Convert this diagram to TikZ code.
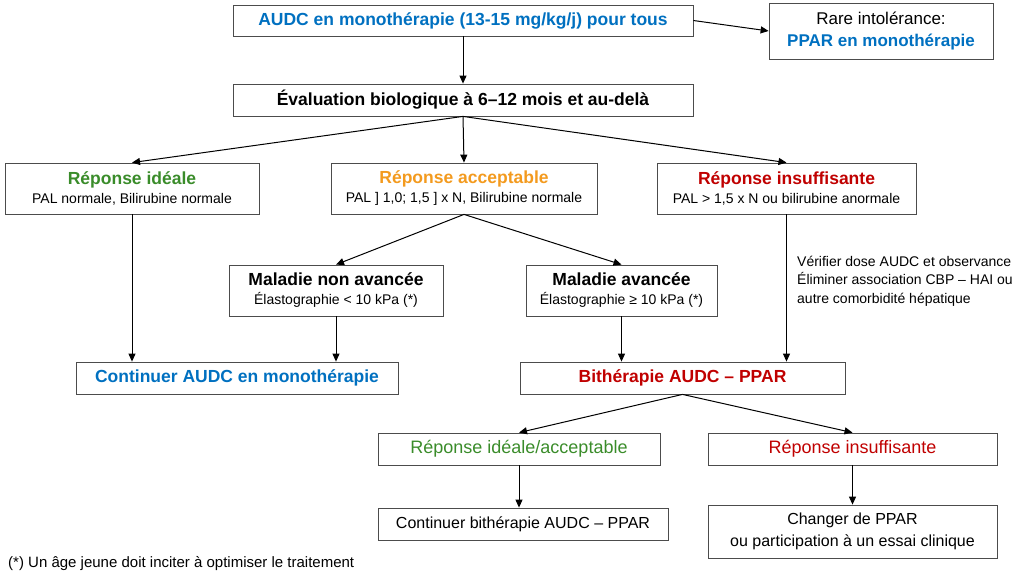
\documentclass[tikz,border=0pt]{standalone}
\usepackage{fontspec}
\setmainfont{Liberation Sans}
\usetikzlibrary{arrows.meta}
\definecolor{cblue}{HTML}{0070C0}
\definecolor{cgreen}{HTML}{3A8C2A}
\definecolor{corange}{HTML}{F39A1E}
\definecolor{cred}{HTML}{C00000}
\newcommand{\myBig}{\fontsize{17.5}{21}\selectfont\bfseries}
\newcommand{\mySm}{\fontsize{14}{17}\selectfont}
\begin{document}
\begin{tikzpicture}[x=1pt,y=-1pt,
  box/.style={draw=black!70,line width=0.8pt,inner sep=0pt,align=center},
  arr/.style={-{Triangle[length=8pt,width=7pt]},line width=1pt}]
\useasboundingbox (0,0) rectangle (1024,576);
\node[box,font=\myBig,text=cblue,minimum width=460,minimum height=31] (top) at (463,20.5) {AUDC en monothérapie (13-15 mg/kg/j) pour tous};
\node[box,font=\fontsize{17}{22}\selectfont,minimum width=224,minimum height=56] (rare) at (881,31) {Rare intolérance:\\{\color{cblue}\bfseries PPAR en monothérapie}};
\node[box,font=\myBig,minimum width=460,minimum height=32] (eval) at (463,100) {Évaluation biologique à 6–12 mois et au-delà};
\node[box,font=\mySm,minimum width=254,minimum height=51] (ideal) at (132,188.5) {{\color{cgreen}\myBig Réponse idéale}\\[2pt]PAL normale, Bilirubine normale};
\node[box,font=\mySm,minimum width=266,minimum height=51] (acc) at (464,188.5) {{\color{corange}\myBig Réponse acceptable}\\[2pt]PAL ] 1,0; 1,5 ] x N, Bilirubine normale};
\node[box,font=\mySm,minimum width=259,minimum height=51] (ins) at (786.5,188.5) {{\color{cred}\myBig Réponse insuffisante}\\[2pt]PAL > 1,5 x N ou bilirubine anormale};
\node[box,font=\mySm,minimum width=214,minimum height=51] (nonav) at (336,290.5) {{\myBig Maladie non avancée}\\[2pt]Élastographie < 10 kPa (*)};
\node[box,font=\mySm,minimum width=191,minimum height=51] (av) at (621.5,290.5) {{\myBig Maladie avancée}\\[2pt]Élastographie ≥ 10 kPa (*)};
\node[box,font=\myBig,text=cblue,minimum width=322,minimum height=32] (cont) at (237,378) {Continuer AUDC en monothérapie};
\node[box,font=\myBig,text=cred,minimum width=325,minimum height=32] (bi) at (682.5,378) {Bithérapie AUDC – PPAR};
\node[box,font=\fontsize{18}{21}\selectfont,text=cgreen,minimum width=282,minimum height=32] (ria) at (519,449) {Réponse idéale/acceptable};
\node[box,font=\fontsize{18}{21}\selectfont,text=cred,minimum width=289,minimum height=32] (ri) at (852.5,449) {Réponse insuffisante};
\node[box,font=\fontsize{16}{19}\selectfont,minimum width=290,minimum height=32] (cb) at (523,524) {Continuer bithérapie AUDC – PPAR};
\node[box,font=\fontsize{16}{22}\selectfont,minimum width=289,minimum height=53] (ch) at (852.5,531.5) {Changer de PPAR\\ou participation à un essai clinique};
\node[anchor=west,align=left,font=\fontsize{14}{18.5}\selectfont,inner sep=0pt] (note) at (797,281) {Vérifier dose AUDC et observance\\Éliminer association CBP – HAI ou\\autre comorbidité hépatique};
\node[anchor=west,font=\fontsize{15}{17}\selectfont,inner sep=0pt] (foot) at (8,564) {(*) Un âge jeune doit inciter à optimiser le traitement};
\draw[arr] (top.east) -- (rare.west);
\draw[arr] (top) -- (eval);
\draw[arr] (eval.south) -- (ideal.north);
\draw[arr] (eval.south) -- (acc.north);
\draw[arr] (eval.south) -- (ins.north);
\draw[arr] (acc.south) -- (nonav.north);
\draw[arr] (acc.south) -- (av.north);
\draw[arr] (ideal.south) -- (ideal.south |- cont.north);
\draw[arr] (nonav.south) -- (nonav.south |- cont.north);
\draw[arr] (av.south) -- (av.south |- bi.north);
\draw[arr] (ins.south) -- (ins.south |- bi.north);
\draw[arr] (bi.south) -- (ria.north);
\draw[arr] (bi.south) -- (ri.north);
\draw[arr] (ria.south) -- (ria.south |- cb.north);
\draw[arr] (ri.south) -- (ri.south |- ch.north);
\end{tikzpicture}
\end{document}
